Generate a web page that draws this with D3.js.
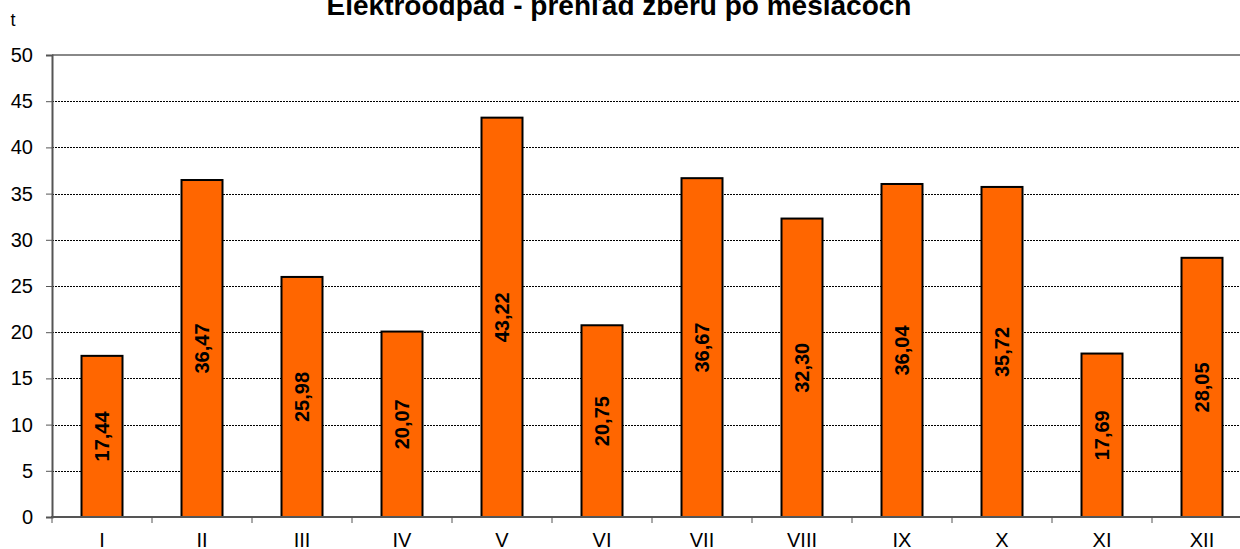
<!DOCTYPE html>
<html>
<head>
<meta charset="utf-8">
<script src="https://cdn.jsdelivr.net/npm/d3@7"></script>
<style>
  body { margin: 0; background: #fff; }
  svg { display: block; font-family: Arial, "Liberation Sans", sans-serif; }
</style>
</head>
<body>
<div id="chart"></div>
<script>
// data
var months = ["I", "II", "III", "IV", "V", "VI", "VII", "VIII", "IX", "X", "XI", "XII"];
var tons = [17.44, 36.47, 25.98, 20.07, 43.22, 20.75, 36.67, 32.30, 36.04, 35.72, 17.69, 28.05];
var yTicks = [0, 5, 10, 15, 20, 25, 30, 35, 40, 45, 50];

var width = 1240, height = 549;
var margin = { top: 55, right: -12, bottom: 32, left: 52 };

var svg = d3.select("#chart").append("svg")
    .attr("width", width)
    .attr("height", height);

var x = d3.scaleBand()
    .domain(months)
    .range([margin.left, width - margin.right])
    .paddingInner(0.59)
    .paddingOuter(0.295);

var y = d3.scaleLinear()
    .domain([0, 50])
    .range([height - margin.bottom, margin.top]);

// gridlines
svg.append("g")
    .selectAll("line")
    .data(yTicks.filter(function(d) { return d > 0 && d < 50; }))
  .enter().append("line")
    .attr("x1", margin.left)
    .attr("x2", width)
    .attr("y1", function(d) { return Math.round(y(d)) + 0.5; })
    .attr("y2", function(d) { return Math.round(y(d)) + 0.5; })
    .attr("stroke", "#000")
    .attr("stroke-width", 1)
    .attr("stroke-dasharray", "2,1");

// top border of plot area
svg.append("line")
    .attr("x1", margin.left)
    .attr("x2", width)
    .attr("y1", y(50))
    .attr("y2", y(50))
    .attr("stroke", "#888")
    .attr("stroke-width", 2);

// bars
svg.append("g")
    .selectAll("rect")
    .data(tons)
  .enter().append("rect")
    .attr("x", function(d, i) { return x(months[i]); })
    .attr("y", function(d) { return y(d); })
    .attr("width", x.bandwidth())
    .attr("height", function(d) { return y(0) - y(d); })
    .attr("fill", "#FF6600")
    .attr("stroke", "#000")
    .attr("stroke-width", 2);

// value labels
svg.append("g")
    .selectAll("text")
    .data(tons)
  .enter().append("text")
    .attr("transform", function(d, i) {
        var cx = x(months[i]) + x.bandwidth() / 2;
        var cy = (y(d) + y(0)) / 2;
        return "translate(" + cx + "," + cy + ") rotate(-90)";
    })
    .attr("text-anchor", "middle")
    .attr("dy", "0.36em")
    .style("font-size", "20px")
    .style("font-weight", "bold")
    .text(function(d) { return d.toFixed(2).replace(".", ","); });

// y axis
var yAxis = svg.append("g")
    .attr("transform", "translate(" + margin.left + ",0)")
    .call(d3.axisLeft(y).tickValues(yTicks).tickSize(6).tickPadding(13));
yAxis.select(".domain").attr("stroke", "#555").attr("stroke-width", 2);
yAxis.selectAll(".tick line").attr("stroke", "#555");
yAxis.selectAll("text").style("font-size", "20px").attr("fill", "#000");

// x axis
var xBoundaries = d3.range(months.length + 1).map(function(i) {
    return margin.left + i * x.step();
});
var xAxis = svg.append("g")
    .attr("transform", "translate(0," + y(0) + ")");
xAxis.append("line")
    .attr("x1", margin.left - 1)
    .attr("x2", width)
    .attr("stroke", "#555")
    .attr("stroke-width", 2);
xAxis.selectAll(".tk")
    .data(xBoundaries)
  .enter().append("line")
    .attr("class", "tk")
    .attr("x1", function(d) { return d; })
    .attr("x2", function(d) { return d; })
    .attr("y1", 0)
    .attr("y2", 6)
    .attr("stroke", "#555");
xAxis.selectAll("text")
    .data(months)
  .enter().append("text")
    .attr("x", function(d) { return x(d) + x.bandwidth() / 2; })
    .attr("y", 30)
    .attr("text-anchor", "middle")
    .style("font-size", "20px")
    .text(function(d) { return d; });

// unit label
svg.append("text")
    .attr("x", 13)
    .attr("y", 26)
    .attr("text-anchor", "middle")
    .style("font-size", "18px")
    .text("t");

// title (partly cut at top)
svg.append("text")
    .attr("x", 619)
    .attr("y", 15)
    .attr("text-anchor", "middle")
    .style("font-size", "28px")
    .style("font-weight", "bold")
    .text("Elektroodpad - prehľad zberu po mesiacoch");
</script>
</body>
</html>
